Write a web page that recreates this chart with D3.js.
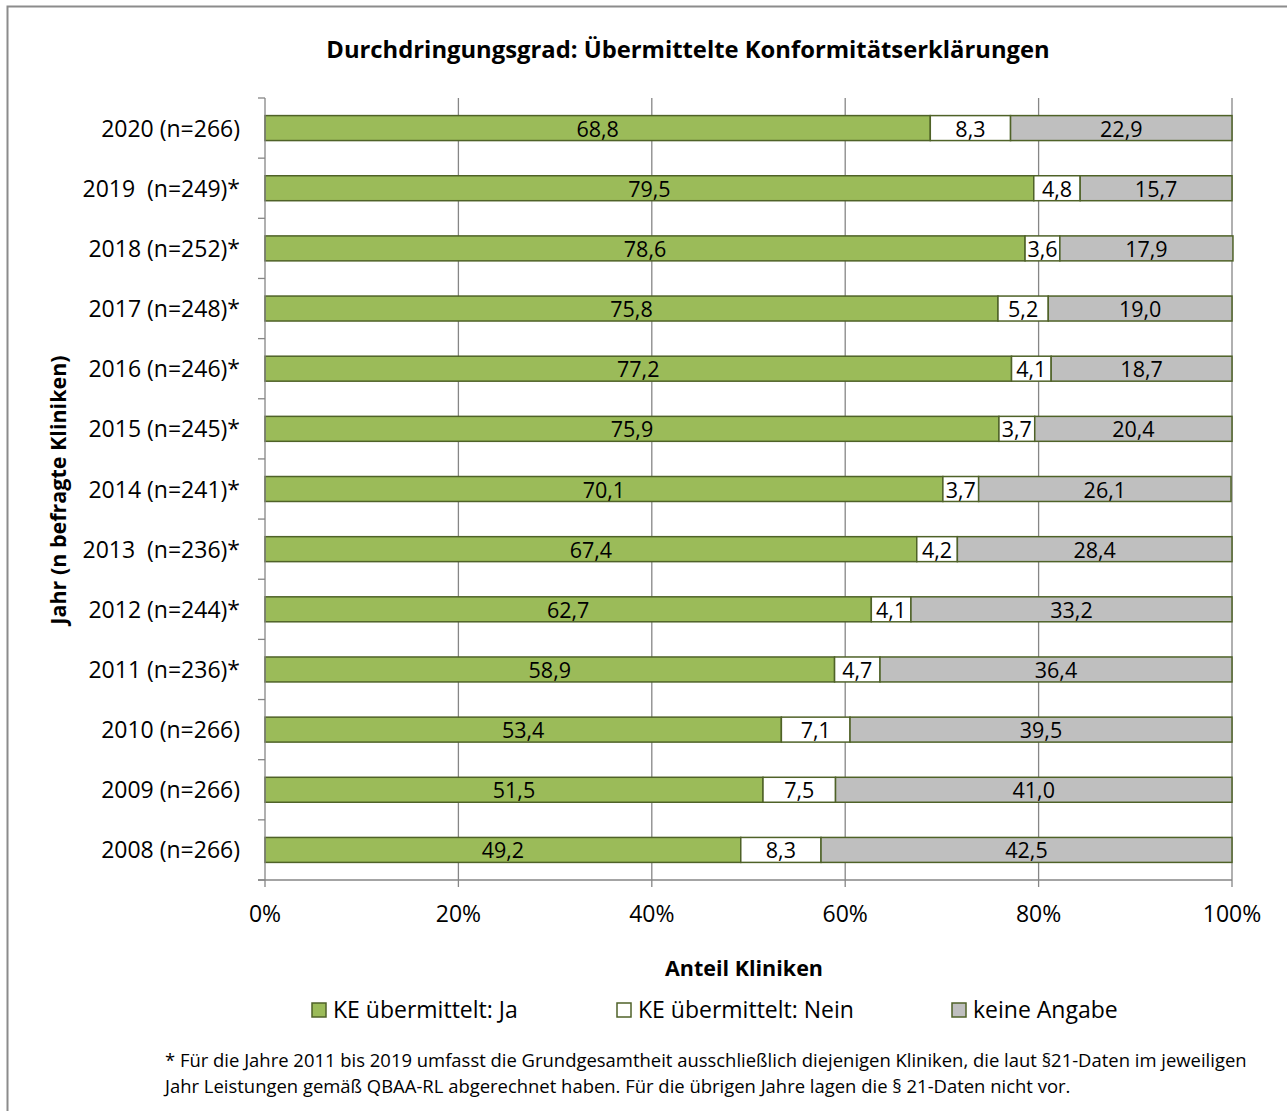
<!DOCTYPE html>
<html>
<head>
<meta charset="utf-8">
<script src="https://cdn.jsdelivr.net/npm/d3@7"></script>
<style>
  html, body { margin: 0; padding: 0; background: #fff; }
  svg { display: block; font-family: "Open Sans", Lato, sans-serif; }
</style>
</head>
<body>
<svg id="chart" width="1287" height="1111"></svg>
<script>
// Years (top to bottom) with sample sizes
const categories = [
  "2020 (n=266)", "2019  (n=249)*", "2018 (n=252)*", "2017 (n=248)*",
  "2016 (n=246)*", "2015 (n=245)*", "2014 (n=241)*", "2013  (n=236)*",
  "2012 (n=244)*", "2011 (n=236)*", "2010 (n=266)", "2009 (n=266)", "2008 (n=266)"
];
// Share of clinics in percent
const keJa    = [68.8, 79.5, 78.6, 75.8, 77.2, 75.9, 70.1, 67.4, 62.7, 58.9, 53.4, 51.5, 49.2];
const keNein  = [8.3, 4.8, 3.6, 5.2, 4.1, 3.7, 3.7, 4.2, 4.1, 4.7, 7.1, 7.5, 8.3];
const keineAngabe = [22.9, 15.7, 17.9, 19.0, 18.7, 20.4, 26.1, 28.4, 33.2, 36.4, 39.5, 41.0, 42.5];

const seriesNames = ["KE übermittelt: Ja", "KE übermittelt: Nein", "keine Angabe"];
const seriesColors = ["#9BBB59", "#FFFFFF", "#BFBFBF"];
const xTicks = [0, 20, 40, 60, 80, 100];

const svg = d3.select("#chart");
const gridColor = "#868686";
const barStroke = "#4F6228";

// outer frame
svg.append("rect")
  .attr("x", 7.5).attr("y", 6.5).attr("width", 1300).attr("height", 1120)
  .attr("fill", "none").attr("stroke", "#8c8c8c").attr("stroke-width", 2);

const plot = { left: 265, right: 1232, top: 98, bottom: 880 };

const x = d3.scaleLinear().domain([0, 100]).range([plot.left, plot.right]);
const y = d3.scaleBand().domain(categories).range([plot.top, plot.bottom]).paddingInner(0.585).paddingOuter(0.2925);

// vertical gridlines
svg.append("g").selectAll("line").data(xTicks.slice(1)).join("line")
  .attr("x1", d => x(d)).attr("x2", d => x(d))
  .attr("y1", plot.top).attr("y2", plot.bottom)
  .attr("stroke", gridColor).attr("stroke-width", 1.3);

// stacked data
const rows = categories.map((c, i) => ({ cat: c, vals: [keJa[i], keNein[i], keineAngabe[i]] }));
const segs = [];
rows.forEach(r => {
  let acc = 0;
  r.vals.forEach((v, k) => {
    segs.push({ cat: r.cat, k, x0: acc, x1: acc + v, v });
    acc += v;
  });
});

const bars = svg.append("g");
bars.selectAll("rect").data(segs).join("rect")
  .attr("x", d => x(d.x0))
  .attr("y", d => y(d.cat))
  .attr("width", d => x(d.x1) - x(d.x0))
  .attr("height", y.bandwidth())
  .attr("fill", d => seriesColors[d.k])
  .attr("stroke", barStroke).attr("stroke-width", 1.5);

bars.selectAll("text").data(segs).join("text")
  .attr("x", d => (x(d.x0) + x(d.x1)) / 2)
  .attr("y", d => y(d.cat) + y.bandwidth() / 2 + 8.5)
  .attr("text-anchor", "middle")
  .attr("font-size", 21.5)
  .attr("fill", "#000")
  .text(d => d3.format(".1f")(d.v).replace(".", ","));

// y axis
const yAxis = svg.append("g");
yAxis.append("line")
  .attr("x1", plot.left).attr("x2", plot.left)
  .attr("y1", plot.top).attr("y2", plot.bottom)
  .attr("stroke", gridColor).attr("stroke-width", 1.3);
const step = y.step();
d3.range(categories.length + 1).forEach(i => {
  yAxis.append("line")
    .attr("x1", plot.left - 7).attr("x2", plot.left)
    .attr("y1", plot.top + i * step).attr("y2", plot.top + i * step)
    .attr("stroke", gridColor).attr("stroke-width", 1.3);
});
yAxis.selectAll("text").data(categories).join("text")
  .attr("x", 240)
  .attr("y", d => y(d) + y.bandwidth() / 2 + 8.5)
  .attr("text-anchor", "end")
  .attr("font-size", 23)
  .style("white-space", "pre")
  .attr("xml:space", "preserve")
  .text(d => d);

// x axis
const xAxis = svg.append("g");
xAxis.append("line")
  .attr("x1", plot.left - 7).attr("x2", plot.right)
  .attr("y1", plot.bottom).attr("y2", plot.bottom)
  .attr("stroke", gridColor).attr("stroke-width", 1.3);
xAxis.selectAll("line.tick").data(xTicks).join("line")
  .attr("class", "tick")
  .attr("x1", d => x(d)).attr("x2", d => x(d))
  .attr("y1", plot.bottom).attr("y2", plot.bottom + 7)
  .attr("stroke", gridColor).attr("stroke-width", 1.3);
xAxis.selectAll("text").data(xTicks).join("text")
  .attr("x", d => x(d))
  .attr("y", 922)
  .attr("text-anchor", "middle")
  .attr("font-size", 23)
  .text(d => d + "%");

// titles
svg.append("text")
  .attr("x", 688).attr("y", 58)
  .attr("text-anchor", "middle")
  .attr("font-size", 23.8).attr("font-weight", "bold")
  .text("Durchdringungsgrad: Übermittelte Konformitätserklärungen");

svg.append("text")
  .attr("x", 744).attr("y", 976)
  .attr("text-anchor", "middle")
  .attr("font-size", 21.5).attr("font-weight", "bold")
  .text("Anteil Kliniken");

svg.append("text")
  .attr("transform", "translate(66,490) rotate(-90)")
  .attr("text-anchor", "middle")
  .attr("font-size", 21.5).attr("font-weight", "bold")
  .text("Jahr (n befragte Kliniken)");

// legend
const legendX = [312, 617, 952];
const legend = svg.append("g");
seriesNames.forEach((name, k) => {
  legend.append("rect")
    .attr("x", legendX[k]).attr("y", 1003).attr("width", 14).attr("height", 14)
    .attr("fill", seriesColors[k]).attr("stroke", barStroke).attr("stroke-width", 1.5);
  legend.append("text")
    .attr("x", legendX[k] + 21).attr("y", 1018)
    .attr("font-size", 23)
    .text(name);
});

// footnote
const foot = svg.append("g").attr("font-size", 18.45);
foot.append("text").attr("x", 165).attr("y", 1067)
  .text("* Für die Jahre 2011 bis 2019 umfasst die Grundgesamtheit ausschließlich diejenigen Kliniken, die laut §21-Daten im jeweiligen");
foot.append("text").attr("x", 165).attr("y", 1093)
  .text("Jahr Leistungen gemäß QBAA-RL abgerechnet haben. Für die übrigen Jahre lagen die § 21-Daten nicht vor.");
</script>
</body>
</html>
